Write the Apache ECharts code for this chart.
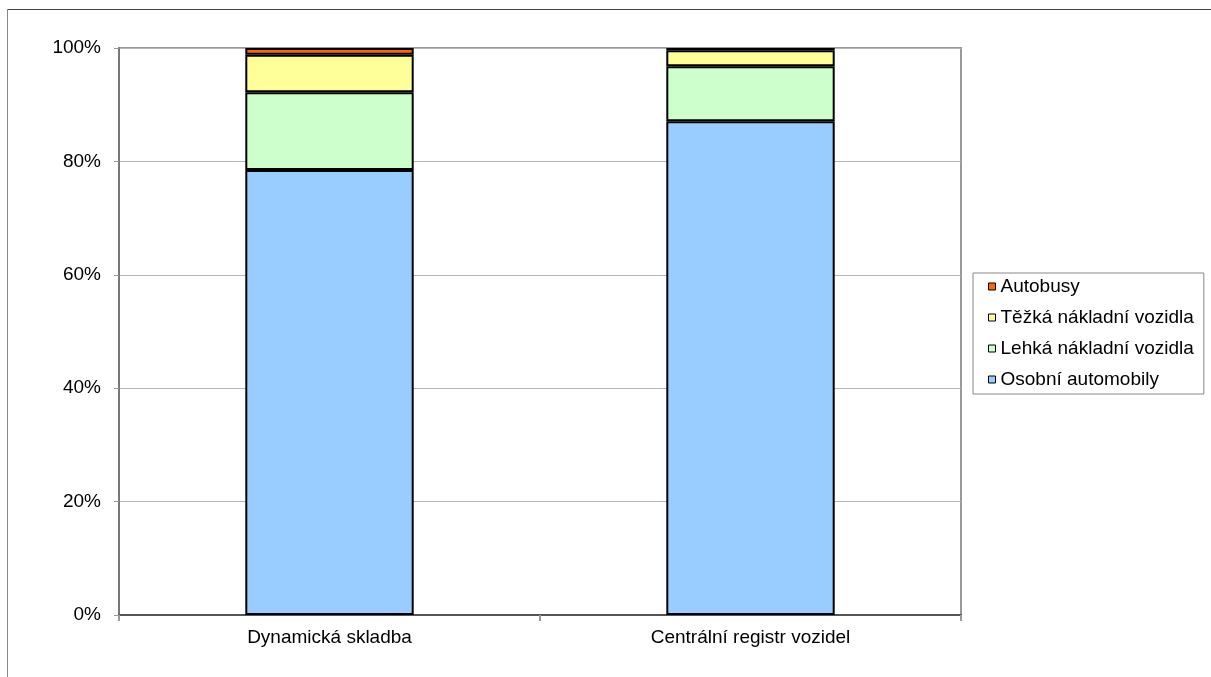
<!DOCTYPE html>
<html>
<head>
<meta charset="utf-8">
<script src="https://cdn.jsdelivr.net/npm/echarts@6/dist/echarts.min.js"></script>
<style>
html,body{margin:0;padding:0;background:#fff;}
#chart{width:1211px;height:677px;}
</style>
</head>
<body>
<div id="chart"></div>
<script>
const categories = ['Dynamická skladba', 'Centrální registr vozidel'];
const seriesNames = ['Osobní automobily', 'Lehká nákladní vozidla', 'Těžká nákladní vozidla', 'Autobusy'];
const osobni = [78.5, 87.1];
const lehka = [13.7, 9.7];
const tezka = [6.6, 2.8];
const autobusy = [1.2, 0.4];
const seriesColors = ['#99CCFF', '#CCFFCC', '#FFFF99', '#FF6600'];
const yTicks = [0, 20, 40, 60, 80, 100];

const values = [osobni, lehka, tezka, autobusy];
const font = 'Liberation Sans, Arial, sans-serif';

const chart = echarts.init(document.getElementById('chart'), null, {renderer: 'canvas'});
chart.setOption({
  animation: false,
  backgroundColor: '#fff',
  textStyle: {fontFamily: font},
  graphic: [
    {type: 'line', shape: {x1: 7, y1: 9.5, x2: 1211, y2: 9.5}, style: {stroke: '#444', lineWidth: 1}},
    {type: 'line', shape: {x1: 7.5, y1: 9, x2: 7.5, y2: 677}, style: {stroke: '#888', lineWidth: 1}}
  ],
  grid: {
    left: 119, top: 48, right: 250, bottom: 62,
    show: true, borderColor: '#999', borderWidth: 2, backgroundColor: '#fff'
  },
  legend: {
    orient: 'vertical',
    left: 973, top: 273,
    padding: [4, 10, 5, 15],
    borderColor: '#888', borderWidth: 1,
    itemWidth: 7, itemHeight: 7, itemGap: 12,
    icon: 'rect',
    itemStyle: {borderColor: '#000', borderWidth: 1},
    textStyle: {fontSize: 19, color: '#000', fontFamily: font},
    data: seriesNames.slice().reverse()
  },
  xAxis: {
    type: 'category',
    data: categories,
    boundaryGap: true,
    axisLine: {lineStyle: {color: '#555', width: 2}},
    axisTick: {show: true, alignWithLabel: false, length: 6, lineStyle: {color: '#999', width: 2}},
    axisLabel: {fontSize: 19, color: '#000', margin: 13, fontFamily: font},
    splitLine: {show: false}
  },
  yAxis: {
    type: 'value',
    min: yTicks[0], max: yTicks[yTicks.length - 1], interval: 20,
    axisLine: {show: true, lineStyle: {color: '#777', width: 2}},
    axisTick: {show: true, length: 5, lineStyle: {color: '#999', width: 1}},
    axisLabel: {fontSize: 19, color: '#000', margin: 18, formatter: '{value}%', fontFamily: font},
    splitLine: {show: true, lineStyle: {color: '#b4b4b4', width: 1}}
  },
  series: seriesNames.map((name, i) => ({
    name: name,
    type: 'bar',
    stack: 'total',
    barWidth: '40%',
    data: values[i],
    itemStyle: {color: seriesColors[i], borderColor: '#000', borderWidth: 2}
  }))
});
</script>
</body>
</html>
